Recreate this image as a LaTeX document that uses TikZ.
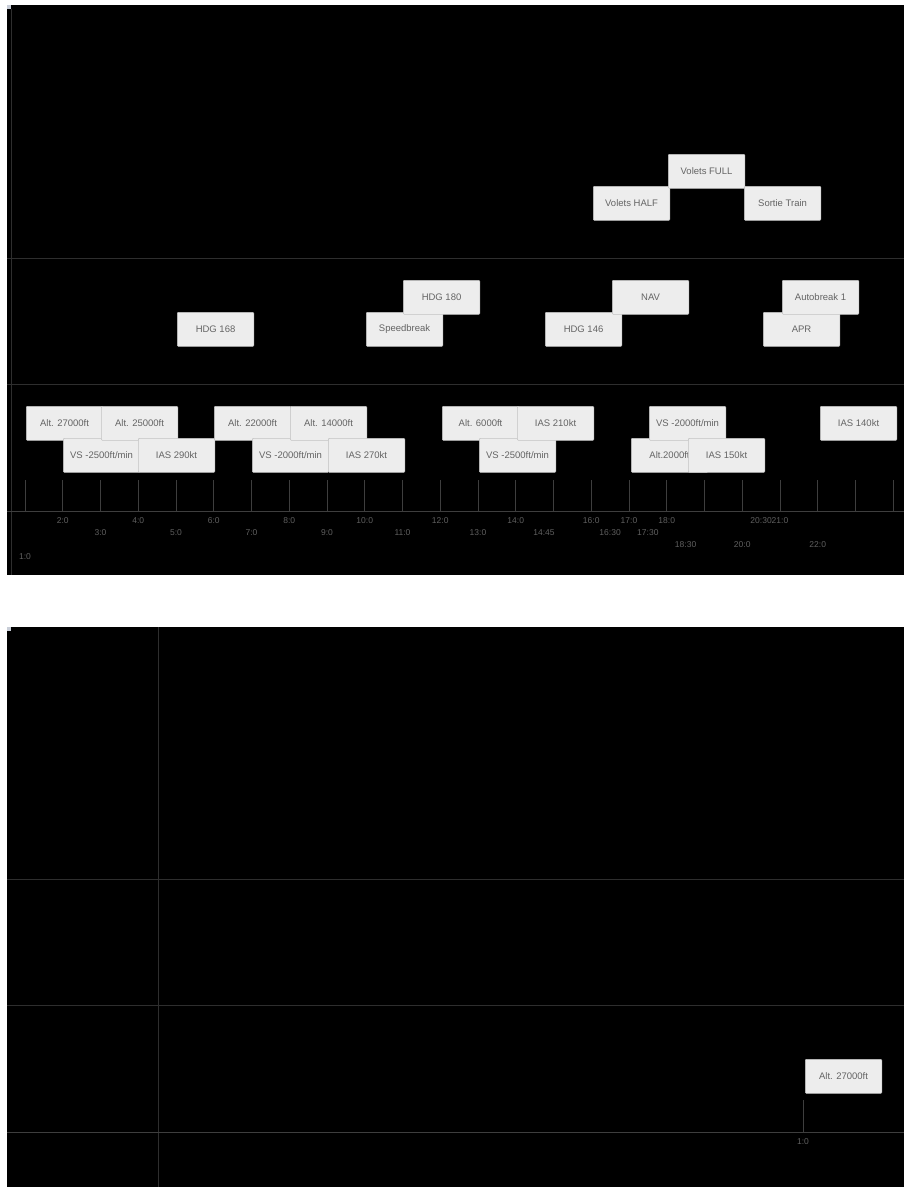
\documentclass[tikz,border=0pt]{standalone}
\usepackage{fontspec}
\setmainfont{Liberation Sans}
\usetikzlibrary{positioning}
\definecolor{gridline}{RGB}{46,46,46}
\definecolor{tickline}{RGB}{62,62,62}
\definecolor{ticklabel}{RGB}{96,96,96}
\definecolor{boxfill}{RGB}{237,237,237}
\definecolor{boxedge}{RGB}{195,195,195}
\definecolor{boxtext}{RGB}{100,100,100}
\definecolor{marker}{RGB}{200,205,215}
\begin{document}
\begin{tikzpicture}[x=1pt,y=-1pt,
  every node/.style={font=\fontsize{9.5}{10}\selectfont},
  evbox/.style={draw=boxedge, fill=boxfill, text=boxtext, rounded corners=1pt,
    minimum width=76.5pt, minimum height=34pt, inner sep=0pt, anchor=north west, line width=0.6pt},
  hourlbl/.style={text=ticklabel, inner sep=0pt, font=\fontsize{8.5}{9}\selectfont},
  gridln/.style={draw=gridline, line width=0.8pt},
  tickln/.style={draw=tickline, line width=0.8pt}]
\useasboundingbox (0,0) rectangle (904,1187);
\fill[white] (0,0) rectangle (904,1187);
% upper screen
\fill[black] (7,5) rectangle (904,575);
\fill[marker] (7,5) rectangle (11,9);
\draw[gridln] (11,9) -- (11,575);
\draw[gridln] (7,258) -- (904,258);
\draw[gridln] (7,384) -- (904,384);
\draw[tickln] (7,511) -- (904,511);
\foreach \h in {1,...,24}
  \draw[tickln] ({25+(\h-1)*37.75},480) -- ++(0,31);
\foreach \lbl/\h/\row [count=\i] in {1:0/1/3, 2:0/2/0, 3:0/3/1, 4:0/4/0, 5:0/5/1, 6:0/6/0,
    7:0/7/1, 8:0/8/0, 9:0/9/1, 10:0/10/0, 11:0/11/1, 12:0/12/0, 13:0/13/1, 14:0/14/0,
    14:45/14.75/1, 16:0/16/0, 16:30/16.5/1, 17:0/17/0, 17:30/17.5/1, 18:0/18/0,
    18:30/18.5/2, 20:0/20/2, 20:30/20.5/0, 21:0/21/0, 22:0/22/2}
  \node[hourlbl] (lbl\i) at ({25+(\h-1)*37.75},{521+12*\row}) {\lbl};
% flaps and gear
\node[evbox] (vhalf) at (593,186) {Volets HALF};
\node[evbox] (vfull) at (668,154) {Volets FULL};
\node[evbox] (train) at (744,186) {Sortie Train};
% heading and modes
\node[evbox] (hdga) at (177,312) {HDG 168};
\node[evbox] (spdbrk) at (366,312) {Speedbreak};
\node[evbox] (hdgb) at (403,280) {HDG 180};
\node[evbox] (hdgc) at (545,312) {HDG 146};
\node[evbox] (nav) at (612,280) {NAV};
\node[evbox] (apr) at (763,312) {APR};
\node[evbox] (abrk) at (782,280) {Autobreak 1};
% altitude, speed, vertical speed
\node[evbox] (alta) at (26,406) {Alt. 27000ft};
\node[evbox] (vsa) at (63,438) {VS -2500ft/min};
\node[evbox] (altb) at (101,406) {Alt. 25000ft};
\node[evbox] (iasa) at (138,438) {IAS 290kt};
\node[evbox] (altc) at (214,406) {Alt. 22000ft};
\node[evbox] (vsb) at (252,438) {VS -2000ft/min};
\node[evbox] (altd) at (290,406) {Alt. 14000ft};
\node[evbox] (iasb) at (328,438) {IAS 270kt};
\node[evbox] (alte) at (442,406) {Alt. 6000ft};
\node[evbox] (vsc) at (479,438) {VS -2500ft/min};
\node[evbox] (iasc) at (517,406) {IAS 210kt};
\node[evbox] (altf) at (631,438) {Alt.2000ft};
\node[evbox] (vsd) at (649,406) {VS -2000ft/min};
\node[evbox] (iasd) at (688,438) {IAS 150kt};
\node[evbox] (iase) at (820,406) {IAS 140kt};
% lower screen
\fill[black] (7,627) rectangle (904,1187);
\fill[marker] (7,627) rectangle (11,631);
\draw[gridln] (158,627) -- (158,1187);
\draw[gridln] (7,879) -- (904,879);
\draw[gridln] (7,1005) -- (904,1005);
\draw[tickln] (7,1132) -- (904,1132);
\coordinate (tick1) at (803,1100);
\draw[tickln] (tick1) -- ++(0,32);
\node[hourlbl] (lblone) at (803,1142) {1:0};
\node[evbox] (altg) at (805,1059) {Alt. 27000ft};
\end{tikzpicture}
\end{document}
